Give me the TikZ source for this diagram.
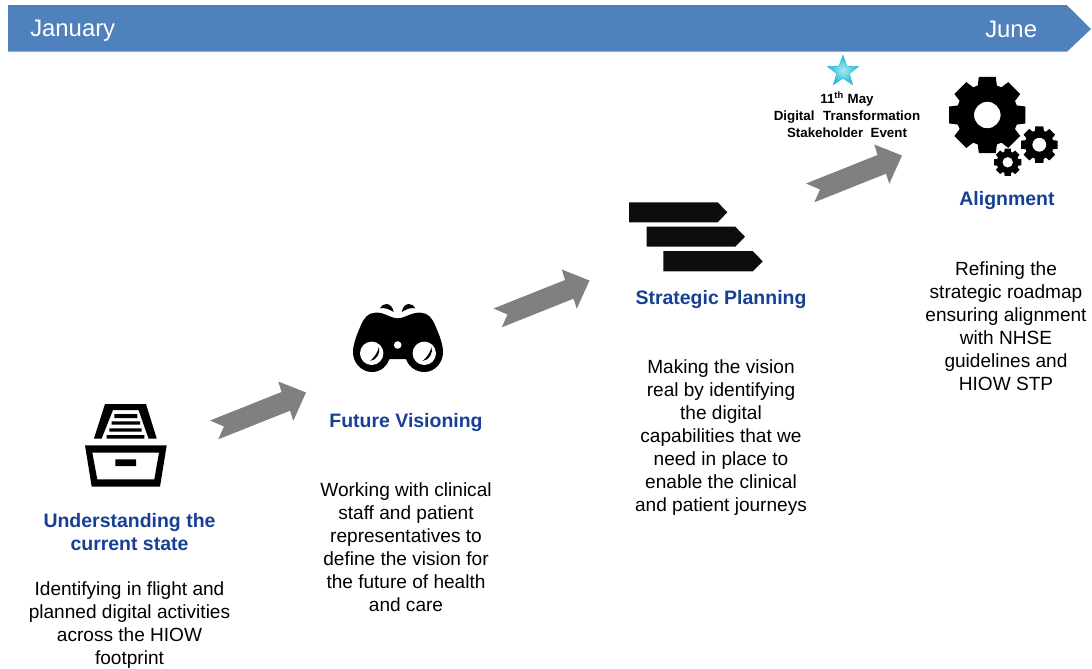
\documentclass[tikz,border=0pt]{standalone}
\usepackage{fontspec}
\setmainfont{Liberation Sans}
\usetikzlibrary{shapes.geometric}
\definecolor{bannerblue}{HTML}{4F81BD}
\definecolor{titleblue}{HTML}{173F94}
\definecolor{stepgray}{HTML}{808080}
\definecolor{inkdark}{HTML}{0D0D0D}
\definecolor{starlight}{HTML}{A5E8F4}
\definecolor{stardark}{HTML}{1FB8D6}
\tikzset{
  bodytext/.style={align=center,text=black,font=\fontsize{14.3}{17.25}\selectfont,inner sep=0pt},
  titletext/.style={align=center,text=titleblue,font=\fontsize{14.6}{17.4}\selectfont\bfseries,inner sep=0pt},
  smalltext/.style={align=center,text=black,font=\fontsize{10}{12.7}\selectfont\bfseries,inner sep=0pt},
  monthtext/.style={text=white,font=\fontsize{17.9}{20}\selectfont,inner sep=0pt},
  stepshape/.style={fill=stepgray,draw=none},
  inkshape/.style={fill=black,draw=none}
}
\newcommand{\steparrow}[2]{%
  \fill[stepshape,shift={(#1,#2)}] (806,183.5) -- (877.5,155) -- (874.3,144.5) -- (902,155.5) -- (889.3,183.7) -- (886,173.7) -- (814.3,202.3) -- (820,189.5) -- cycle;}
\newcommand{\cogwheel}[5]{%
  \fill[inkshape,even odd rule,shift={(#1,#2)}]
    (90+18:#4)
    \foreach \k in {0,...,7}{
      \pgfextra{\pgfmathsetmacro{\a}{90-45*\k}}
      -- (\a+18:#4) -- (\a+12.5:#3) -- (\a-12.5:#3) -- (\a-18:#4)
    } -- cycle
    (0,0) circle[radius=#5];}
\begin{document}
\begin{tikzpicture}[x=0.75pt,y=-0.75pt]
\useasboundingbox (0,0) rectangle (1092,668);
\fill[bannerblue] (8,5) -- (1066.7,5) -- (1091,29) -- (1067,51.7) -- (8,51.7) -- cycle;
\node[monthtext,anchor=west] (jan) at (30,30.5) {January};
\node[monthtext,anchor=west] (jun) at (985,29) {June};
\steparrow{-596}{237}
\steparrow{-312.5}{125}
\steparrow{0}{0}
\node[star,star points=5,star point ratio=2.4,minimum size=24.5pt,inner sep=0pt,
  draw=stardark,line width=0.3pt,inner color=starlight,outer color=stardark] (evstar) at (843,71.5) {};
% drawer icon
\fill[inkshape,even odd rule] (105,404) -- (146,404) -- (156.7,438.5) -- (148.5,438.5) -- (138.5,410) -- (113,410) -- (101.7,438.5) -- (94,438.5) -- cycle;
\fill[inkshape] (114.3,414) rectangle (137.3,418)
  (111.7,421.3) rectangle (140,424.7)
  (109.3,428.3) rectangle (141.7,431.7)
  (106.7,435) rectangle (144.3,438.7);
\fill[inkshape,even odd rule] (85,445.3) -- (166.7,445.3) -- (160,486.7) -- (91.7,486.7) -- cycle
  (92.3,452.7) -- (159,452.7) -- (154.3,479.3) -- (97.3,479.3) -- cycle
  (115.3,459.3) rectangle (136,466);
% binoculars icon
\fill[inkshape] (397.7,318.3) .. controls (389,318) and (385,312) .. (375,312.7)
  .. controls (368,313) and (364,318) .. (361,325)
  .. controls (358,332) and (354,341) .. (353,350)
  .. controls (352,362) and (361,372) .. (372,372)
  .. controls (381,372) and (387,366) .. (389.5,359)
  -- (406,359)
  .. controls (408.5,366) and (415,372) .. (424.5,372)
  .. controls (435,372) and (444,362) .. (443,350)
  .. controls (442,341) and (438,332) .. (435,325)
  .. controls (432,318) and (428,313) .. (421,312.7)
  .. controls (411,312) and (406,318) .. (397.7,318.3) -- cycle;
\fill[inkshape] (380,308.3) .. controls (381,305.5) and (384,304) .. (386.7,304) .. controls (390,304) and (393,307.5) .. (393.6,312) .. controls (389,309) and (385,307.5) .. (380,308.3) -- cycle;
\fill[inkshape] (415.4,308.3) .. controls (414.4,305.5) and (411.4,304) .. (408.7,304) .. controls (405.4,304) and (402.4,307.5) .. (401.8,312) .. controls (406.4,309) and (410.4,307.5) .. (415.4,308.3) -- cycle;
\fill[white] (371.7,353.3) circle[radius=11.7] (424.3,353.3) circle[radius=11.7] (397.7,345) circle[radius=3.8];
\fill[inkshape] (379,347) .. controls (380.5,353) and (377,360) .. (370,361) .. controls (374,357.5) and (377.5,353) .. (379,347) -- cycle;
\fill[inkshape] (431.6,347) .. controls (433.1,353) and (429.6,360) .. (422.6,361) .. controls (426.6,357.5) and (430.1,353) .. (431.6,347) -- cycle;
% road-map arrows icon
\fill[inkdark] (629,202.3) -- (717.7,202.3) -- (727.3,212.3) -- (717.7,222.3) -- (629,222.3) -- cycle;
\fill[inkdark] (646.7,226.7) -- (735.3,226.7) -- (745,236.7) -- (735.3,246.7) -- (646.7,246.7) -- cycle;
\fill[inkdark] (663.3,251) -- (752.7,251) -- (762.7,261.3) -- (752.7,271.3) -- (663.3,271.3) -- cycle;
% cogs
\cogwheel{987.3}{115}{39}{31}{13.3}
\cogwheel{1039.3}{144.7}{18.7}{14.5}{7}
\cogwheel{1007.7}{162.3}{14}{11}{5.3}
% titles
\node[titletext] (t1) at (129.5,532) {Understanding the\\current state};
\node[titletext] (t2) at (406,423) {Future Visioning};
\node[titletext] (t3) at (721,300) {Strategic Planning};
\node[titletext] (t4) at (1007,201) {Alignment};
% texts
\node[bodytext] (b1) at (129.5,625) {Identifying in flight and\\planned digital activities\\across the HIOW\\footprint};
\node[bodytext] (b2) at (406,547.5) {Working with clinical\\staff and patient\\representatives to\\define the vision for\\the future of health\\and care};
\node[bodytext] (b3) at (721,437.5) {Making the vision\\real by identifying\\the digital\\capabilities that we\\need in place to\\enable the clinical\\and patient journeys};
\node[bodytext] (b4) at (1006,326) {Refining the\\strategic roadmap\\ensuring alignment\\with NHSE\\guidelines and\\HIOW STP};
\node[smalltext] (ev) at (847,115) {11\textsuperscript{th} May\\Digital\hspace{6.5pt}Transformation\\Stakeholder\hspace{5.5pt}Event};
\end{tikzpicture}
\end{document}
